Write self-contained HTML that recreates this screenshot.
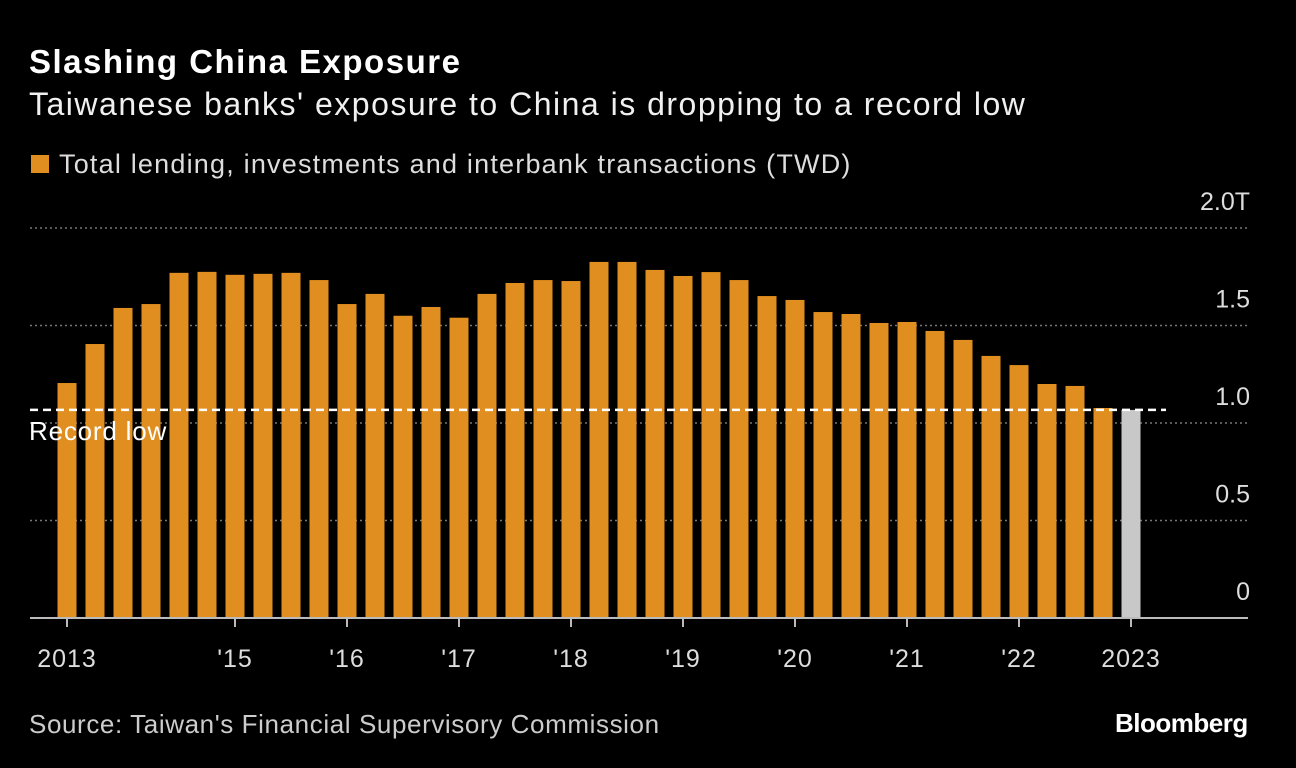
<!DOCTYPE html>
<html><head><meta charset="utf-8"><style>
body{margin:0;background:#000;width:1296px;height:768px;overflow:hidden;font-family:"Liberation Sans",sans-serif;color:#fff}
.t{position:absolute;white-space:nowrap}
</style></head><body>
<div class="t" style="left:29px;top:43px;font-size:33px;letter-spacing:1.5px;font-weight:bold">Slashing China Exposure</div>
<div class="t" style="left:29px;top:86px;font-size:32px;letter-spacing:1.5px;color:#f0f0f0">Taiwanese banks' exposure to China is dropping to a record low</div>
<div class="t" style="left:31px;top:149px;font-size:27px;letter-spacing:1.2px;color:#ddd"><span style="display:inline-block;width:18px;height:18px;background:#e08e1f;margin-right:10px;vertical-align:0px"></span>Total lending, investments and interbank transactions (TWD)</div>
<svg id="c" width="1296" height="768" style="position:absolute;left:0;top:0"></svg>
<div class="t" style="left:29px;top:709px;font-size:26px;letter-spacing:0.6px;color:#ccc">Source: Taiwan's Financial Supervisory Commission</div>
<div class="t" style="left:1115px;top:708px;font-size:26px;font-weight:bold;letter-spacing:-0.5px">Bloomberg</div>
<script>
const values=[1.205,1.405,1.59,1.61,1.77,1.775,1.76,1.765,1.77,1.733,1.61,1.662,1.55,1.595,1.54,1.662,1.718,1.733,1.728,1.826,1.826,1.785,1.754,1.774,1.733,1.651,1.631,1.569,1.559,1.513,1.518,1.472,1.426,1.344,1.297,1.2,1.19,1.077,1.067];
const yTicks=[0,0.5,1.0,1.5,2.0];
const yTickLabels=["0","0.5","1.0","1.5","2.0T"];
const xLabels=["2013","'15","'16","'17","'18","'19","'20","'21","'22","2023"];
const xLabelIdx=[0,6,10,14,18,22,26,30,34,38];
const recordLow=1.067;
const svg=document.getElementById('c');
const NS='http://www.w3.org/2000/svg';
const y=v=>618-v*195;
const x=i=>67+i*28;
function mk(tag,attrs){const e=document.createElementNS(NS,tag);for(const k in attrs)e.setAttribute(k,attrs[k]);svg.appendChild(e);return e;}
yTicks.forEach((v,i)=>{
  if(v>0){const g=mk('line',{x1:30,x2:1248,y1:y(v),y2:y(v),stroke:'#777','stroke-width':1.5,'stroke-dasharray':'2,3'});
  
  }
  const t=mk('text',{x:1250,y:y(v)-18,'text-anchor':'end','font-size':25,fill:'#ddd','font-family':'Liberation Sans, sans-serif'});
  t.textContent=yTickLabels[i];
  
  
});
values.forEach((v,i)=>{
  const b=mk('rect',{x:x(i)-9.5,y:y(v),width:19,height:618-y(v),fill:i==values.length-1?'#c8c8c8':'#e08e1f'});
  
  
});
const ax=mk('line',{x1:30,x2:1248,y1:618,y2:618,stroke:'#bbb','stroke-width':2});


xLabels.forEach((l,i)=>{
  const px=x(xLabelIdx[i]);
  const tk=mk('line',{x1:px,x2:px,y1:618,y2:627,stroke:'#bbb','stroke-width':2});
  
  
  const t=mk('text',{x:px,y:667,'text-anchor':'middle','font-size':25,'letter-spacing':'1px',fill:'#ddd','font-family':'Liberation Sans, sans-serif'});
  t.textContent=l;
  
  
});
const rl=mk('line',{x1:30,x2:1166,y1:y(recordLow),y2:y(recordLow),stroke:'#fff','stroke-width':2.5,'stroke-dasharray':'8,5'});


const rt=mk('text',{x:29,y:y(recordLow)+30,'font-size':26,'letter-spacing':'0.8px',fill:'#fff','font-family':'Liberation Sans, sans-serif'});
rt.textContent='Record low';


</script>
</body></html>
